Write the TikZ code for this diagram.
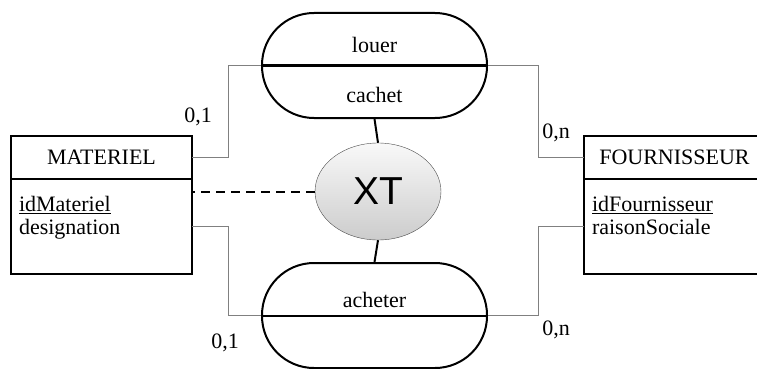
\documentclass[tikz,border=0pt]{standalone}
\usepackage{fontspec}
\setmainfont{Liberation Serif}
\newfontfamily\xtfont{Liberation Sans}
\usetikzlibrary{shapes.geometric}

\begin{document}
\begin{tikzpicture}[x=1pt,y=-1pt,
    every node/.style={font=\fontsize{22}{23}\selectfont},
    enthead/.style={draw,line width=2pt,minimum width=181pt,minimum height=43pt,inner sep=0pt,outer sep=0pt},
    entbody/.style={draw,line width=2pt,minimum width=181pt,minimum height=95pt,outer sep=0pt,
      text width=165pt,inner xsep=8pt,inner ysep=0pt,align=left},
    assoc/.style={draw,line width=2pt,rounded corners=52pt,minimum width=225pt,minimum height=105pt},
    link/.style={draw=gray,line width=1pt},
    card/.style={inner sep=0pt}]
   \useasboundingbox (0,0) rectangle (757,369);

   % entites
   \node[enthead] (mathead) at (101.5,157.5) {MATERIEL};
   \node[entbody,anchor=north] (matbody) at (mathead.south)
     {\underline{idMateriel}\\designation\\\mbox{}};
   \node[enthead] (fouhead) at (674.5,157.5) {FOURNISSEUR};
   \node[entbody,anchor=north] (foubody) at (fouhead.south)
     {\underline{idFournisseur}\\raisonSociale\\\mbox{}};

   % associations
   \node[assoc] (louer) at (374.5,65.5) {};
   \draw[line width=2pt] (louer.west) -- (louer.east);
   \node (louertxt) at (374.5,45) {louer};
   \node (cachet) at (374.5,95) {cachet};

   \node[assoc] (acheter) at (374.5,315.5) {};
   \draw[line width=2pt] (acheter.west) -- (acheter.east);
   \node (achetertxt) at (374.5,300) {acheter};

   % contrainte
   \node[ellipse,draw=gray!60!black,thin,top color=gray!5,bottom color=gray!40,
     minimum width=126pt,minimum height=97pt,
     font=\xtfont\fontsize{39}{40}\selectfont] (xt) at (378,191.5) {XT};

   % pattes
   \draw[link] (mathead.east) -- ++(36,0) |- (louer.west);
   \draw[link] (louer.east) -- ++(50,0) |- (fouhead.west);
   \draw[link] (matbody.east) -- ++(36,0) |- (acheter.west);
   \draw[link] (acheter.east) -- ++(50,0) |- (foubody.west);

   \draw[line width=2pt] (louer.south) -- (xt.north);
   \draw[line width=2pt] (xt.south) -- (acheter.north);
   \draw[line width=2pt,dash pattern=on 9pt off 6pt] (xt.west) -- (xt.west -| matbody.east);

   % cardinalites
   \node[card] (c1) at (198,117) {0,1};
   \node[card] (c2) at (556,133) {0,n};
   \node[card] (c3) at (225,343) {0,1};
   \node[card] (c4) at (556,330) {0,n};
 \end{tikzpicture}
\end{document}
